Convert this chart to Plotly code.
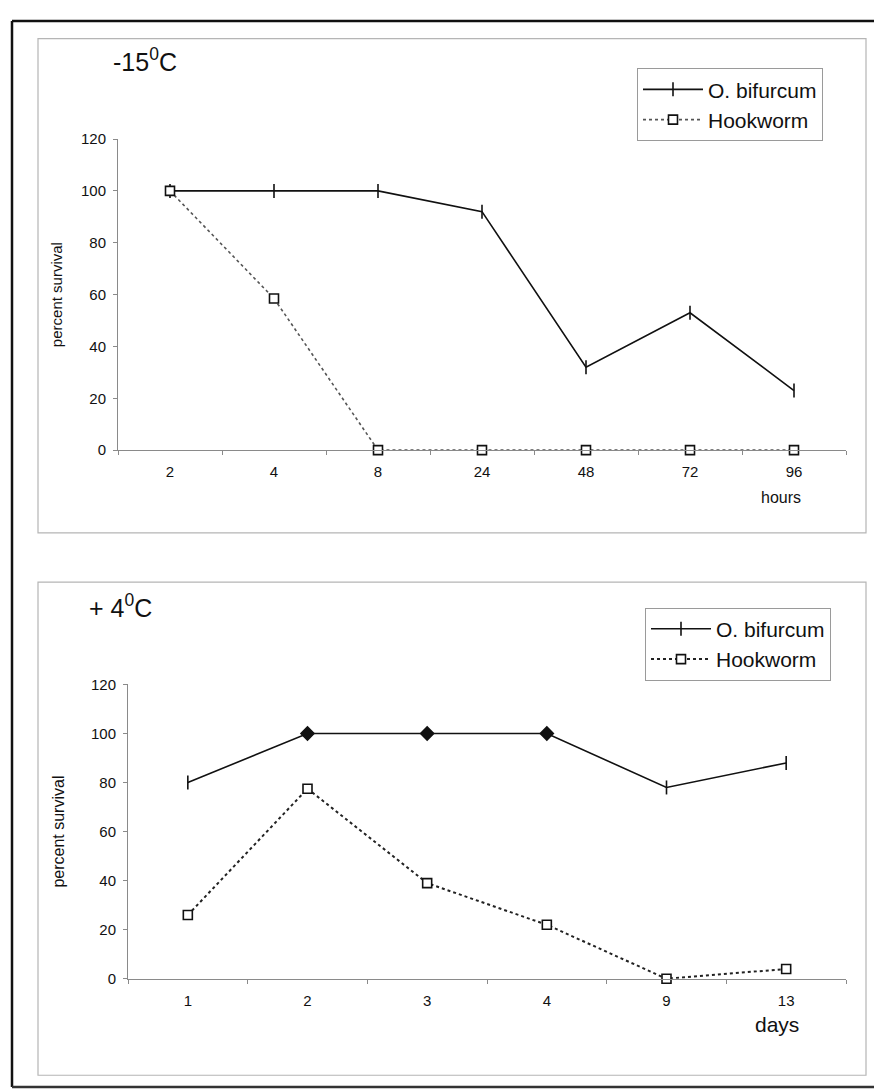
import plotly.graph_objects as go

W, H = 882, 1091

# ---- data ----
hours = ["2", "4", "8", "24", "48", "72", "96"]
bif_cold = [100, 100, 100, 92, 32, 53, 23]
hook_cold = [100, 58.5, 0, 0, 0, 0, 0]

days = ["1", "2", "3", "4", "9", "13"]
bif_warm = [80, 100, 100, 100, 78, 88]
hook_warm = [26, 77.5, 39, 22, 0, 4]

y_ticks = [0, 20, 40, 60, 80, 100, 120]


def px(x):
    return x / W


def py(y):
    return 1 - y / H


FONT = "Liberation Sans, Arial, sans-serif"

fig = go.Figure()

# top panel traces
fig.add_trace(go.Scatter(
    x=hours, y=bif_cold, name="O. bifurcum", mode="lines+markers",
    line=dict(color="#111", width=1.6),
    marker=dict(symbol="line-ns", size=10, line=dict(color="#111", width=1.6)),
    xaxis="x", yaxis="y", legend="legend", cliponaxis=False))
fig.add_trace(go.Scatter(
    x=hours, y=hook_cold, name="Hookworm", mode="lines+markers",
    line=dict(color="#555", width=1.6, dash="dot"),
    marker=dict(symbol="square", size=9, color="white", line=dict(color="#111", width=1.6)),
    xaxis="x", yaxis="y", legend="legend", cliponaxis=False))

# bottom panel traces
sym_warm = ["line-ns", "diamond", "diamond", "diamond", "line-ns", "line-ns"]
fig.add_trace(go.Scatter(
    x=days, y=bif_warm, name="O. bifurcum", mode="lines+markers",
    line=dict(color="#111", width=1.6),
    marker=dict(symbol=sym_warm, size=10, color="#111", line=dict(color="#111", width=1.6)),
    xaxis="x2", yaxis="y2", legend="legend2", cliponaxis=False))
fig.add_trace(go.Scatter(
    x=days, y=hook_warm, name="Hookworm", mode="lines+markers",
    line=dict(color="#222", width=2, dash="dot"),
    marker=dict(symbol="square", size=9, color="white", line=dict(color="#111", width=1.6)),
    xaxis="x2", yaxis="y2", legend="legend2", cliponaxis=False))

axis_common = dict(
    showgrid=False, zeroline=False, showline=True, linecolor="#8a8a8a", linewidth=1,
    ticks="outside", ticklen=4, tickcolor="#8a8a8a",
    tickfont=dict(family=FONT, size=15, color="#111"), fixedrange=True,
)

fig.update_layout(
    width=W, height=H, margin=dict(l=0, r=0, t=0, b=0),
    paper_bgcolor="white", plot_bgcolor="white",
    font=dict(family=FONT, color="#111"),
    xaxis=dict(axis_common, domain=[px(110), px(838)], type="category",
               range=[-0.5, 6.5], tickson="boundaries", anchor="y",
               ticklabelstandoff=8),
    yaxis=dict(axis_common, domain=[py(440), py(124)], range=[0, 120],
               tickvals=y_ticks, anchor="x", ticklabelstandoff=4,
               title=dict(text="percent survival", font=dict(family=FONT, size=15), standoff=14)),
    xaxis2=dict(axis_common, domain=[px(120), px(838)], type="category",
                range=[-0.5, 5.5], tickson="boundaries", anchor="y2",
                ticklabelstandoff=8),
    yaxis2=dict(axis_common, domain=[py(977), py(678)], range=[0, 120],
                tickvals=y_ticks, anchor="x2", ticklabelstandoff=4,
                title=dict(text="percent survival", font=dict(family=FONT, size=16), standoff=22)),
    legend=dict(x=px(629), y=py(52), xanchor="left", yanchor="top",
                bordercolor="#9a9a9a", borderwidth=1, bgcolor="white",
                font=dict(family=FONT, size=21), tracegroupgap=0, itemwidth=60),
    legend2=dict(x=px(637), y=py(600), xanchor="left", yanchor="top",
                 bordercolor="#9a9a9a", borderwidth=1, bgcolor="white",
                 font=dict(family=FONT, size=21), tracegroupgap=0, itemwidth=60),
    showlegend=True,
)

shapes = [
    # panel frames
    dict(type="rect", xref="paper", yref="paper", x0=px(30), x1=px(858), y0=py(524), y1=py(22),
         line=dict(color="#b5b5b5", width=1.2), layer="below"),
    dict(type="rect", xref="paper", yref="paper", x0=px(30), x1=px(858), y0=py(1075), y1=py(574),
         line=dict(color="#b5b5b5", width=1.2), layer="below"),
    # outer frame
    dict(type="line", xref="paper", yref="paper", x0=px(4), x1=px(4), y0=py(1087), y1=py(4),
         line=dict(color="#111", width=2.5)),
    dict(type="line", xref="paper", yref="paper", x0=px(4), x1=px(878), y0=py(4), y1=py(4),
         line=dict(color="#111", width=2.5)),
    dict(type="line", xref="paper", yref="paper", x0=px(4), x1=px(878), y0=py(1087), y1=py(1087),
         line=dict(color="#333", width=2.5)),
    dict(type="line", xref="paper", yref="paper", x0=px(878), x1=px(878), y0=py(1000), y1=py(140),
         line=dict(color="#bbb", width=1.5)),
]

annotations = [
    dict(text="-15<sup>0</sup>C", x=px(137), y=py(44), xref="paper", yref="paper",
         xanchor="center", yanchor="middle",
         showarrow=False, font=dict(family=FONT, size=25, color="#111")),
    dict(text="+ 4<sup>0</sup>C", x=px(112), y=py(598), xref="paper", yref="paper",
         xanchor="center", yanchor="middle",
         showarrow=False, font=dict(family=FONT, size=25, color="#111")),
    dict(text="hours", x=px(795), y=py(488), xref="paper", yref="paper",
         showarrow=False, font=dict(family=FONT, size=16, color="#111")),
    dict(text="days", x=px(793), y=py(1037), xref="paper", yref="paper",
         showarrow=False, font=dict(family=FONT, size=21, color="#111")),
]

fig.update_layout(shapes=shapes, annotations=annotations)

fig.write_html("out.html")
